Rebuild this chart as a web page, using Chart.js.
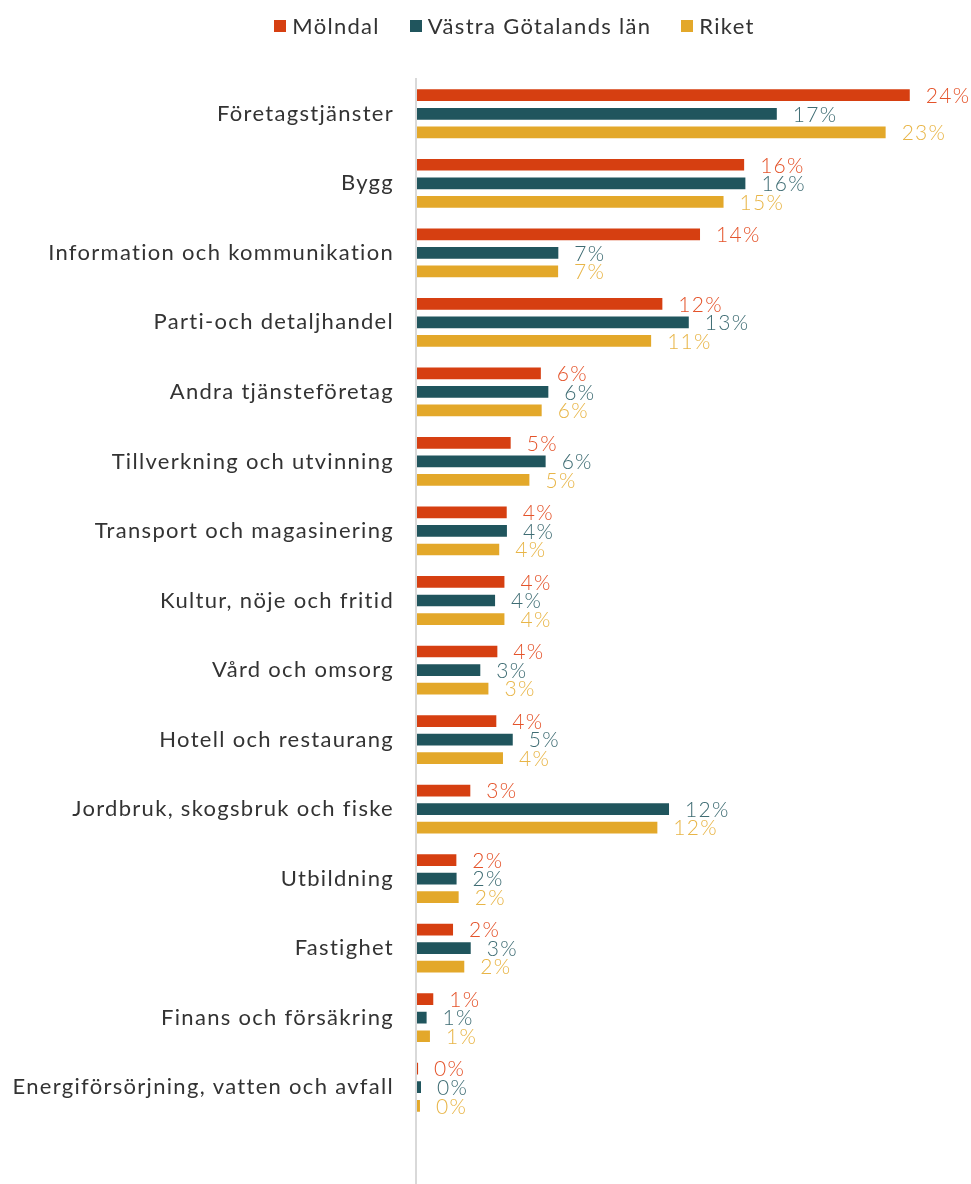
<!DOCTYPE html>
<html lang="sv">
<head>
  <meta charset="UTF-8" />
  <title>Branscher</title>
  <script src="https://cdn.jsdelivr.net/npm/chart.js"></script>
  <style>
    body { margin: 0; background: #fff; font-family: Lato, Arial, sans-serif; }
    #wrap { position: relative; width: 971px; height: 1184px; }
    #legend {
      position: absolute; top: 12px; left: 58px; right: 0;
      display: flex; justify-content: center; gap: 30px;
      font-size: 22px; letter-spacing: 1.3px; color: #333;
    }
    .item { display: flex; align-items: center; gap: 6px; }
    .sw { width: 12px; height: 12px; display: inline-block; }
  </style>
</head>
<body>
  <div id="wrap">
    <div id="legend"></div>
    <canvas id="chart" width="971" height="1184"></canvas>
  </div>

  <script>
    // Data
    const categories = [
      'Företagstjänster', 'Bygg', 'Information och kommunikation',
      'Parti-och detaljhandel', 'Andra tjänsteföretag', 'Tillverkning och utvinning',
      'Transport och magasinering', 'Kultur, nöje och fritid', 'Vård och omsorg',
      'Hotell och restaurang', 'Jordbruk, skogsbruk och fiske', 'Utbildning',
      'Fastighet', 'Finans och försäkring', 'Energiförsörjning, vatten och avfall'
    ];
    const seriesNames = ['Mölndal', 'Västra Götalands län', 'Riket'];
    const molndal = [23.73, 15.77, 13.65, 11.84, 6.0, 4.55, 4.36, 4.25, 3.91, 3.86, 2.61, 1.94, 1.78, 0.83, 0.1];
    const vastra  = [17.34, 15.83, 6.84, 13.11, 6.36, 6.23, 4.37, 3.8, 3.09, 4.65, 12.16, 1.95, 2.63, 0.51, 0.24];
    const riket   = [22.57, 14.78, 6.83, 11.3, 6.04, 5.45, 4.0, 4.25, 3.48, 4.18, 11.6, 2.05, 2.32, 0.67, 0.19];

    const barColors   = ['#D63F11', '#20555D', '#E3A82A'];
    const labelColors = ['#E4532A', '#3E6C73', '#E8B547'];
    const FONT = 'Lato, Arial, sans-serif';

    // HTML legend
    const legendEl = document.getElementById('legend');
    seriesNames.forEach((name, i) => {
      const d = document.createElement('div');
      d.className = 'item';
      d.innerHTML = `<span class="sw" style="background:${barColors[i]}"></span>${name}`;
      legendEl.appendChild(d);
    });

    // wider text, like the original font
    const spacing = {
      id: 'spacing',
      beforeDraw(chart) { chart.ctx.letterSpacing = '1.3px'; }
    };

    // axis line from the top of the plot to the bottom of the page
    const axisLine = {
      id: 'axisLine',
      beforeDatasetsDraw(chart) {
        const ctx = chart.ctx, a = chart.chartArea;
        ctx.save();
        ctx.fillStyle = '#D9D9D9';
        ctx.fillRect(a.left - 2, a.top - 1, 2, chart.height - a.top + 1);
        ctx.restore();
      }
    };

    // percent labels after each bar
    const barLabels = {
      id: 'barLabels',
      afterDatasetsDraw(chart) {
        const ctx = chart.ctx;
        ctx.save();
        ctx.font = '300 21px ' + FONT;
        ctx.textBaseline = 'middle';
        ctx.textAlign = 'left';
        chart.data.datasets.forEach((ds, i) => {
          chart.getDatasetMeta(i).data.forEach((bar, j) => {
            ctx.fillStyle = labelColors[i];
            ctx.fillText(Math.round(ds.data[j]) + '%', bar.x + 15, bar.y + 1);
          });
        });
        ctx.restore();
      }
    };

    const ds = (i, data) => ({
      label: seriesNames[i],
      data: data,
      backgroundColor: barColors[i],
      borderColor: 'rgba(255,255,255,0.45)',
      borderWidth: 1,
      categoryPercentage: 0.8,
      barPercentage: 0.74
    });

    new Chart(document.getElementById('chart'), {
      type: 'bar',
      data: {
        labels: categories,
        datasets: [ds(0, molndal), ds(1, vastra), ds(2, riket)]
      },
      options: {
        indexAxis: 'y',
        responsive: false,
        animation: false,
        layout: { padding: { top: 79, bottom: 62, left: 0, right: 13 } },
        plugins: { legend: { display: false }, tooltip: { enabled: false } },
        scales: {
          x: { display: false, min: 0, max: 26 },
          y: {
            grid: { display: false },
            border: { display: false },
            afterFit(scale) { scale.width = 417; },
            ticks: {
              padding: 15,
              color: '#333',
              font: { family: FONT, size: 22 }
            }
          }
        }
      },
      plugins: [spacing, axisLine, barLabels]
    });
  </script>
</body>
</html>
